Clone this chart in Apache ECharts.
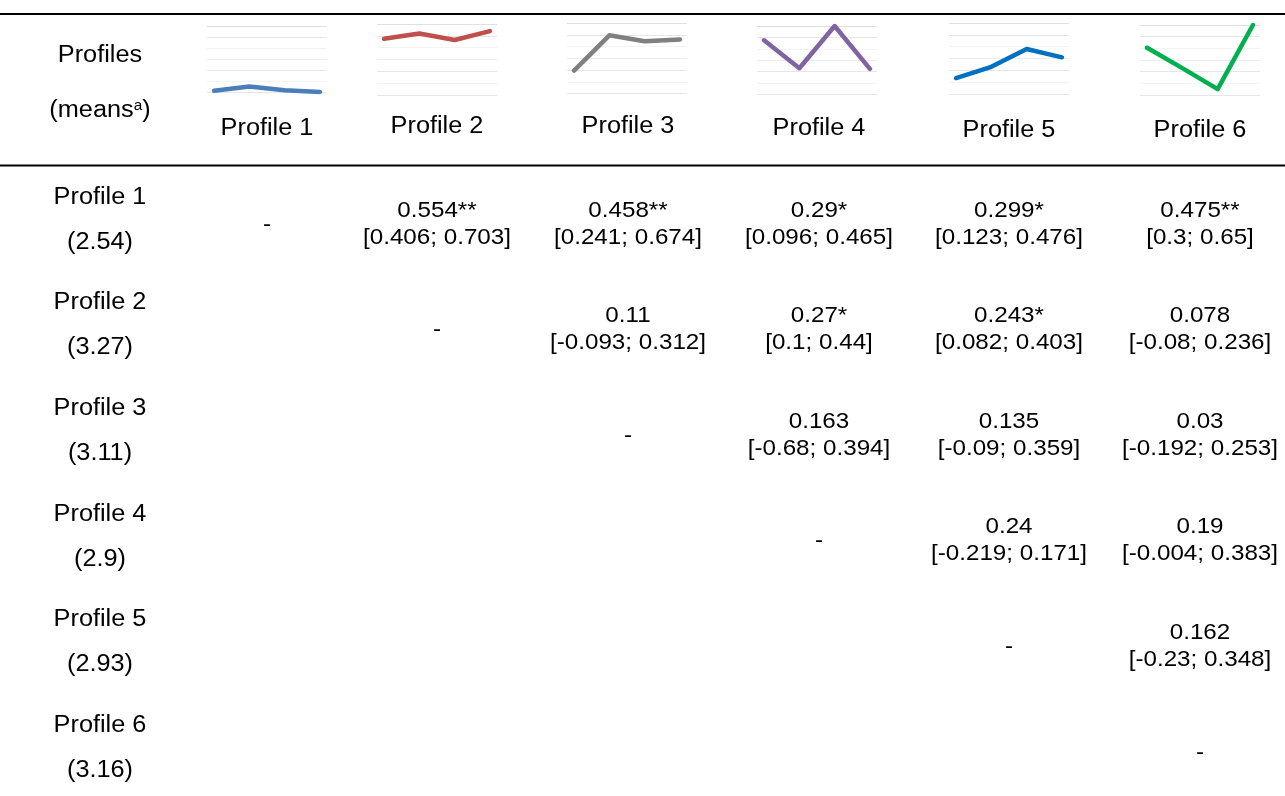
<!DOCTYPE html>
<html>
<head>
<meta charset="utf-8">
<script src="https://cdn.jsdelivr.net/npm/echarts@6/dist/echarts.min.js"></script>
<style>
  html, body { margin: 0; padding: 0; background: #fff; }
  #chart { width: 1285px; height: 796px; }
</style>
</head>
<body>
<div id="chart"></div>
<script>
// Profile names and their overall means
const profileNames = ['Profile 1', 'Profile 2', 'Profile 3', 'Profile 4', 'Profile 5', 'Profile 6'];
const profileMeans = ['2.54', '3.27', '3.11', '2.9', '2.93', '3.16'];

// Sparkline shapes (four indicator means per profile, on a 0–6 sparkline scale)
const spark1 = [0.15, 0.55, 0.2, 0.05];
const spark2 = [4.75, 5.2, 4.65, 5.4];
const spark3 = [1.95, 4.95, 4.45, 4.6];
const spark4 = [4.75, 2.3, 6.0, 2.25];
const spark5 = [1.35, 2.3, 3.8, 3.1];
const spark6 = [4.05, 2.3, 0.5, 6.0];
const sparkColors = ['#4a7ebb', '#c0504d', '#808080', '#8064a2', '#0070c0', '#00b050'];

// Pairwise effect sizes (upper triangle), significance marks and confidence bounds
const effect = [
  [null, 0.554, 0.458, 0.29, 0.299, 0.475],
  [null, null, 0.11, 0.27, 0.243, 0.078],
  [null, null, null, 0.163, 0.135, 0.03],
  [null, null, null, null, 0.24, 0.19],
  [null, null, null, null, null, 0.162],
  [null, null, null, null, null, null]
];
const stars = [
  ['', '**', '**', '*', '*', '**'],
  ['', '', '', '*', '*', ''],
  ['', '', '', '', '', ''],
  ['', '', '', '', '', ''],
  ['', '', '', '', '', ''],
  ['', '', '', '', '', '']
];
const ciLow = [
  [null, 0.406, 0.241, 0.096, 0.123, 0.3],
  [null, null, -0.093, 0.1, 0.082, -0.08],
  [null, null, null, -0.68, -0.09, -0.192],
  [null, null, null, null, -0.219, -0.004],
  [null, null, null, null, null, -0.23],
  [null, null, null, null, null, null]
];
const ciHigh = [
  [null, 0.703, 0.674, 0.465, 0.476, 0.65],
  [null, null, 0.312, 0.44, 0.403, 0.236],
  [null, null, null, 0.394, 0.359, 0.253],
  [null, null, null, null, 0.171, 0.383],
  [null, null, null, null, null, 0.348],
  [null, null, null, null, null, null]
];

const sparks = [spark1, spark2, spark3, spark4, spark5, spark6];

// Layout
const FONT = '"Liberation Sans", Arial, Helvetica, sans-serif';
const SX = 1.1;
const LABEL_SIZE = 23, CELL_SIZE = 22;
const colX = [267, 437, 628, 819, 1009, 1200];
const headY = [129, 127, 127, 129, 131, 131];
const gridLeft = [207, 377, 567, 757, 949, 1140];
const gridTop = [26, 24, 23, 26, 23, 25];
const gridBottomY = [92.5, 95, 93.5, 94.5, 94, 95];
const rowY0 = 197.5, rowStep = 105.6;

function txt(text, x, y, size) {
  return {
    type: 'text', x: x, y: y, scaleX: SX, silent: true,
    style: {
      text: text, fill: '#000', font: size + 'px ' + FONT,
      textAlign: 'center', textVerticalAlign: 'middle'
    }
  };
}

const graphics = [];
// Rules
graphics.push({ type: 'rect', shape: { x: 0, y: 13, width: 1285, height: 2 }, style: { fill: '#000' }, silent: true });
graphics.push({ type: 'rect', shape: { x: 0, y: 164.5, width: 1285, height: 2 }, style: { fill: '#000' }, silent: true });

// Header stub
graphics.push(txt('Profiles', 100, 55.5, LABEL_SIZE));
graphics.push({
  type: 'text', x: 100, y: 111, scaleX: SX, silent: true,
  style: {
    text: '(means{sup|a})', fill: '#000', font: LABEL_SIZE + 'px ' + FONT,
    textAlign: 'center', textVerticalAlign: 'middle',
    rich: { sup: { fontSize: 14, fontFamily: FONT, fill: '#000', padding: [0, 0, 9, 0] } }
  }
});

// Column headers
profileNames.forEach((n, j) => graphics.push(txt(n, colX[j], headY[j], LABEL_SIZE)));

// Body
profileNames.forEach((n, i) => {
  const y = rowY0 + rowStep * i;
  graphics.push(txt(n, 100, y, LABEL_SIZE));
  graphics.push(txt('(' + profileMeans[i] + ')', 100, y + 45, LABEL_SIZE));
  for (let j = 0; j < 6; j++) {
    if (j === i) {
      graphics.push(txt('-', colX[j], y + 27, CELL_SIZE));
    } else if (effect[i][j] !== null) {
      graphics.push(txt(String(effect[i][j]) + stars[i][j], colX[j], y + 13, CELL_SIZE));
      graphics.push(txt('[' + String(ciLow[i][j]) + '; ' + String(ciHigh[i][j]) + ']', colX[j], y + 40, CELL_SIZE));
    }
  }
});

// Sparklines: one small grid per profile
const grids = [], xAxes = [], yAxes = [], series = [];
sparks.forEach((vals, k) => {
  grids.push({ left: gridLeft[k], top: gridTop[k], width: 120, height: gridBottomY[k] - gridTop[k] });
  xAxes.push({
    type: 'value', gridIndex: k, min: -0.2, max: 3.2, show: false,
    splitLine: { show: false }
  });
  yAxes.push({
    type: 'value', gridIndex: k, min: 0, max: 6, interval: 1,
    axisLine: { show: false }, axisTick: { show: false }, axisLabel: { show: false },
    splitLine: { show: true, lineStyle: { color: ['#e6e6e6', '#f3f3f3', '#e6e6e6', '#ececec', '#f3f3f3', '#e6e6e6', '#e0e0e0'], width: 1 } }
  });
  series.push({
    type: 'line', xAxisIndex: k, yAxisIndex: k,
    data: vals.map((v, idx) => [idx, v]),
    symbol: 'none', silent: true, animation: false,
    lineStyle: { color: sparkColors[k], width: 4.5, cap: 'round', join: 'round' }
  });
});

const chart = echarts.init(document.getElementById('chart'), null, { renderer: 'canvas' });
chart.setOption({
  backgroundColor: '#fff',
  animation: false,
  grid: grids,
  xAxis: xAxes,
  yAxis: yAxes,
  series: series,
  graphic: graphics
});
</script>
</body>
</html>
